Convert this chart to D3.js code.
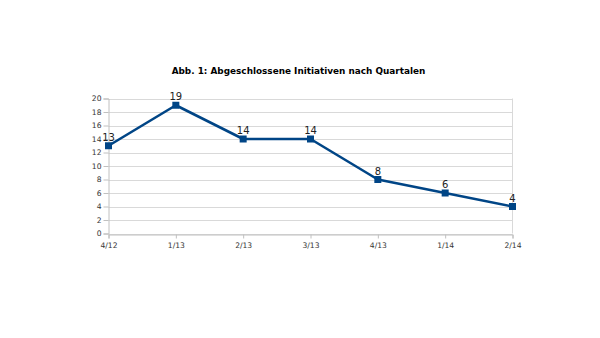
<!DOCTYPE html>
<html><head><meta charset="utf-8">
<script src="https://cdn.jsdelivr.net/npm/d3@7"></script>
<style>body{margin:0;background:#fff}svg{display:block}</style>
</head><body>
<svg id="c" width="600" height="338"></svg>
<script>
const categories = ["4/12","1/13","2/13","3/13","4/13","1/14","2/14"];
const values = [13,19,14,14,8,6,4];
const yTicks = [0,2,4,6,8,10,12,14,16,18,20];
const title = "Abb. 1: Abgeschlossene Initiativen nach Quartalen";

const svg = d3.select("#c");
const font = "DejaVu Sans, sans-serif";
const x = d3.scalePoint().domain(categories).range([108.5, 512.5]);
const y = d3.scaleLinear().domain([0,20]).range([233.5, 98.5]);

svg.append("text").attr("x", 298.5).attr("y", 74).attr("text-anchor","middle")
  .attr("font-family", font).attr("font-weight","bold").attr("font-size", 8.9)
  .attr("fill","#000").text(title);

// gridlines
svg.append("g").selectAll("line").data(yTicks).join("line")
  .attr("x1", 108.5).attr("x2", 512.5)
  .attr("y1", d=>Math.round(y(d))+0.5).attr("y2", d=>Math.round(y(d))+0.5)
  .attr("stroke", "#d9d9d9").attr("stroke-width",1);
svg.append("line").attr("x1",512.5).attr("x2",512.5).attr("y1",y(20)).attr("y2",y(0)).attr("stroke","#d9d9d9");

// y axis
const ya = d3.axisLeft(y).tickValues(yTicks).tickSize(5).tickPadding(2);
const gy = svg.append("g").attr("transform","translate(108.5,0)").call(ya);
gy.select(".domain").attr("stroke","#c0c0c0");
gy.selectAll(".tick line").attr("stroke","#c0c0c0");
gy.selectAll("text").attr("font-family",font).attr("font-size",7.6).attr("fill","#333");

// x axis
const xa = d3.axisBottom(x).tickSize(4).tickPadding(4);
const gx = svg.append("g").attr("transform",`translate(0,${Math.round(y(0))+0.5})`).call(xa);
gx.select(".domain").attr("stroke","#c0c0c0");
gx.selectAll(".tick line").attr("stroke","#c0c0c0");
gx.selectAll("text").attr("font-family",font).attr("font-size",7.6).attr("fill","#333");

const data = categories.map((c,i)=>({c, v: values[i]}));
svg.append("path").datum(data)
  .attr("d", d3.line().x(d=>x(d.c)).y(d=>y(d.v)))
  .attr("fill","none").attr("stroke","#004586").attr("stroke-width",2.6).attr("stroke-linejoin","round");

svg.append("g").selectAll("rect").data(data).join("rect")
  .attr("x", d=>x(d.c)-3.5).attr("y", d=>y(d.v)-3.5).attr("width",7).attr("height",7)
  .attr("fill","#004586");

svg.append("g").selectAll("text").data(data).join("text")
  .attr("x", d=>x(d.c)).attr("y", d=>y(d.v)-5).attr("text-anchor","middle")
  .attr("font-family",font).attr("font-size",10).attr("fill","#222").text(d=>d.v);
</script>
</body></html>
